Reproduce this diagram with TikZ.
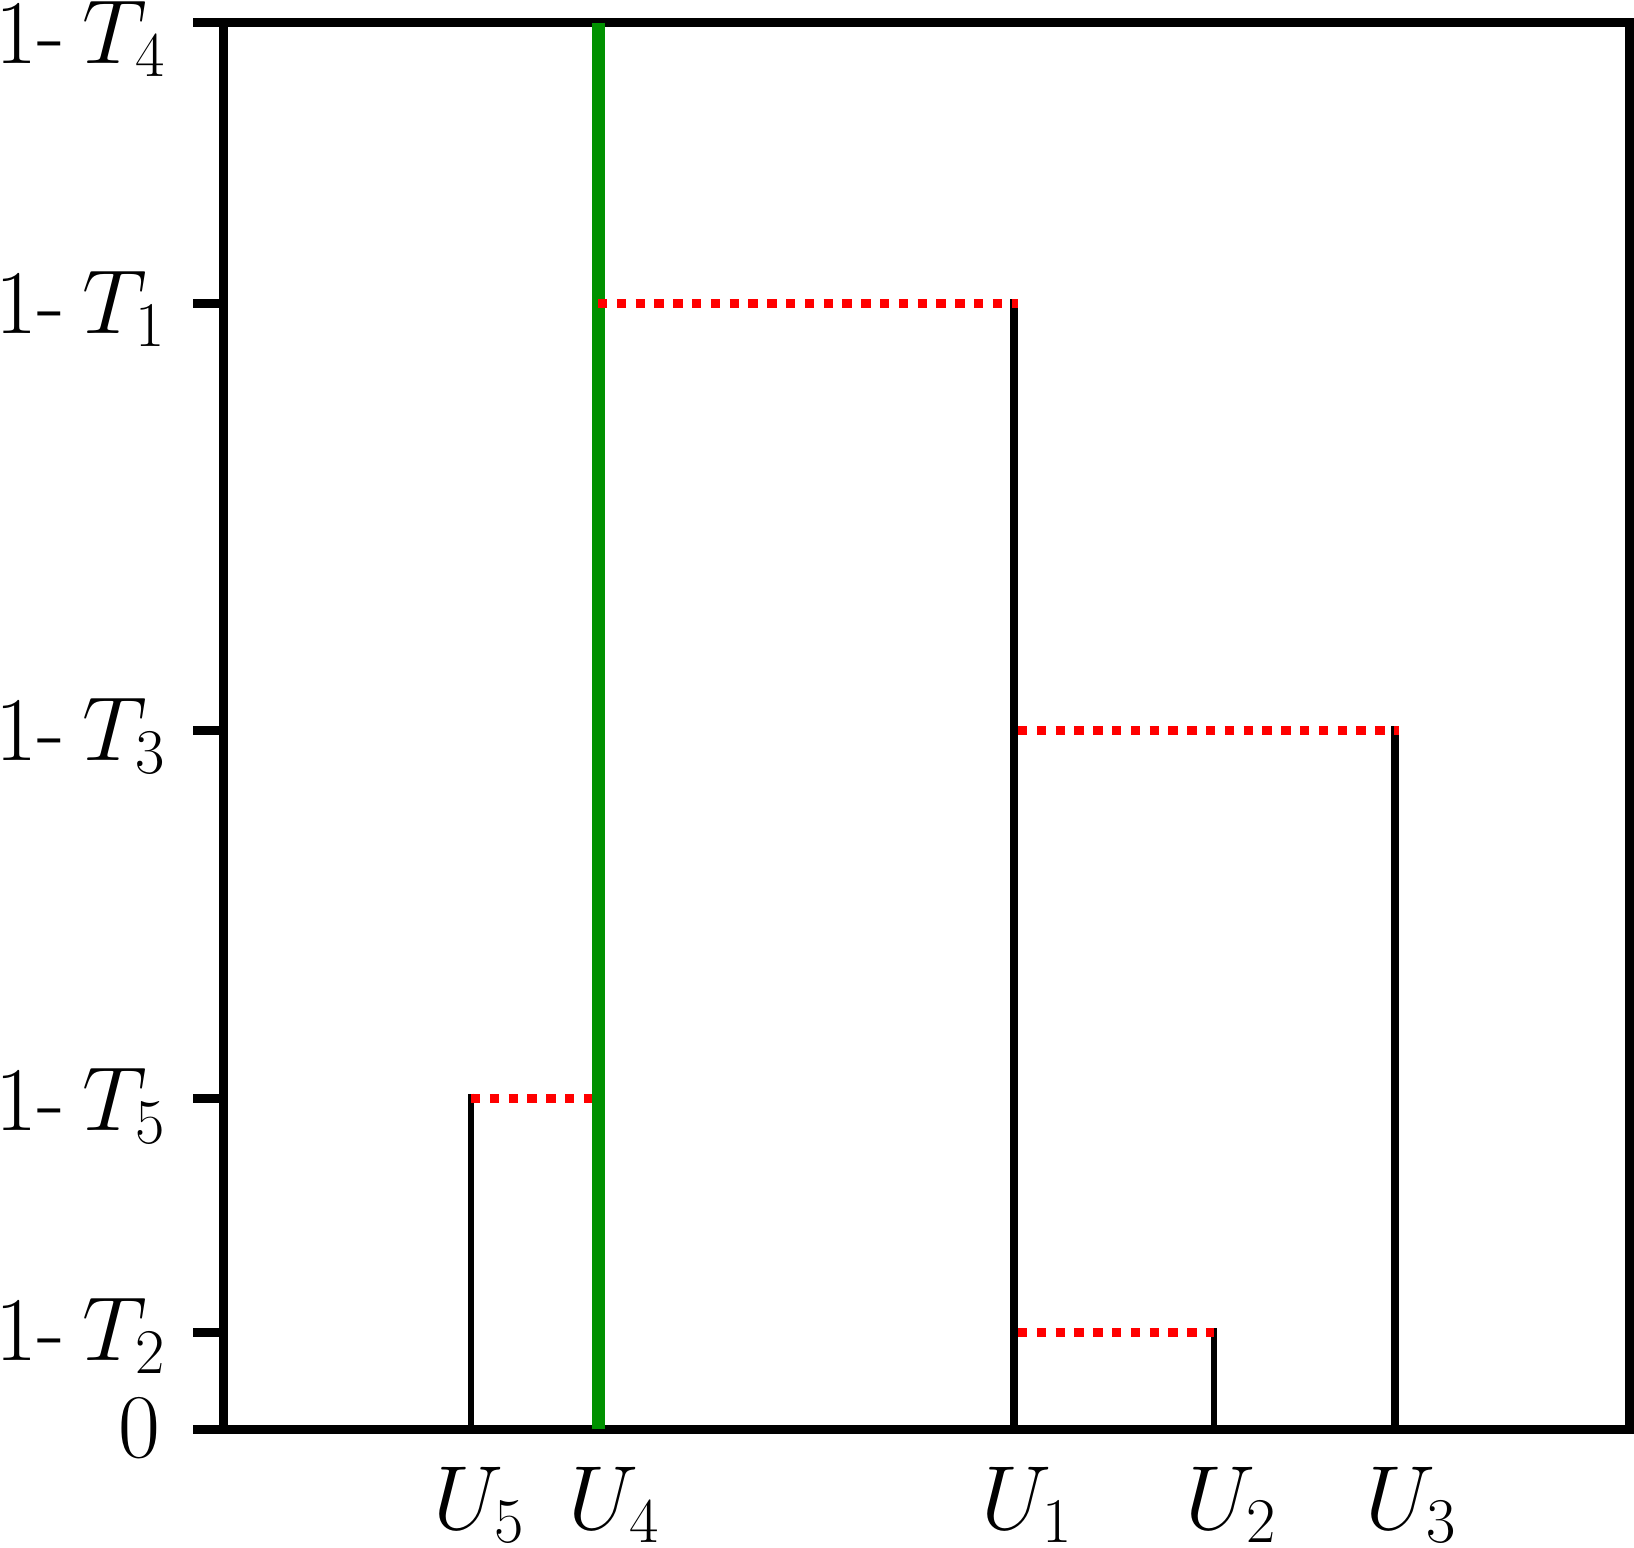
\RequirePackage{fix-cm}
\documentclass[tikz,border=0pt]{standalone}
\definecolor{plotgreen}{RGB}{0,145,0}
\definecolor{plotred}{RGB}{255,0,0}
\begin{document}
\begin{tikzpicture}[x=1pt,y=-1pt,
  frameline/.style={line width=9pt},
  tickline/.style={line width=9pt},
  branch/.style={line width=8pt},
  thinbranch/.style={line width=6pt},
  joinline/.style={plotred,line width=9pt,dash pattern=on 9.4pt off 9.4pt},
  lineage/.style={plotgreen,line width=13pt},
  lbl/.style={inner sep=0pt,font=\fontsize{91}{100}\selectfont}]
\useasboundingbox (0,0) rectangle (1634,1548);
% frame
\draw[frameline] (223.5,22.5) rectangle (1629.5,1429);
% ticks
\foreach \yy/\nm in {22.5/tfour,303.5/tone,730.5/tthree,1098/tfive,1332.5/ttwo,1429/tzero}{
  \coordinate (\nm a) at (193,\yy);
  \coordinate (\nm b) at (223.5,\yy);
  \draw[tickline] (\nm a) -- (\nm b);
}
% y labels
\node[lbl,anchor=base east] (lT4) at (165,63) {1-\kern0.2em$T_4$};
\node[lbl,anchor=base east] (lT1) at (165,333) {1-\kern0.2em$T_1$};
\node[lbl,anchor=base east] (lT3) at (165,760) {1-\kern0.2em$T_3$};
\node[lbl,anchor=base east] (lT5) at (165,1130) {1-\kern0.2em$T_5$};
\node[lbl,anchor=base east] (lT2) at (165,1360) {1-\kern0.2em$T_2$};
\node[lbl,anchor=base east] (l0) at (160,1457) {$0$};
% branch coordinates
\coordinate (u5top) at (471,1093.5);
\coordinate (u5bot) at (471,1429);
\coordinate (u4top) at (598,22.5);
\coordinate (u4bot) at (598,1429);
\coordinate (u1top) at (1013.5,299);
\coordinate (u1bot) at (1013.5,1429);
\coordinate (u2top) at (1214,1328);
\coordinate (u2bot) at (1214,1429);
\coordinate (u3top) at (1395,726);
\coordinate (u3bot) at (1395,1429);
% black branches
\draw[thinbranch] (u5top) -- (u5bot);
\draw[branch] (u1top) -- (u1bot);
\draw[thinbranch] (u2top) -- (u2bot);
\draw[branch] (u3top) -- (u3bot);
% green lineage
\draw[lineage] (u4top) -- (u4bot);
% red joins
\coordinate (j1a) at (598,303.5);
\coordinate (j1b) at (1018,303.5);
\coordinate (j3a) at (1018,730.5);
\coordinate (j3b) at (1399,730.5);
\coordinate (j5a) at (471,1098);
\coordinate (j5b) at (591.5,1098);
\coordinate (j2a) at (1018,1332.5);
\coordinate (j2b) at (1214,1332.5);
\draw[joinline] (j1a) -- (j1b);
\draw[joinline] (j3a) -- (j3b);
\draw[joinline] (j5a) -- (j5b);
\draw[joinline] (j2a) -- (j2b);
% x labels
\node[lbl,anchor=base] (lU5) at (479,1529) {$U_5$};
\node[lbl,anchor=base] (lU4) at (614,1529) {$U_4$};
\node[lbl,anchor=base] (lU1) at (1027,1529) {$U_1$};
\node[lbl,anchor=base] (lU2) at (1231,1529) {$U_2$};
\node[lbl,anchor=base] (lU3) at (1411,1529) {$U_3$};
\end{tikzpicture}
\end{document}
